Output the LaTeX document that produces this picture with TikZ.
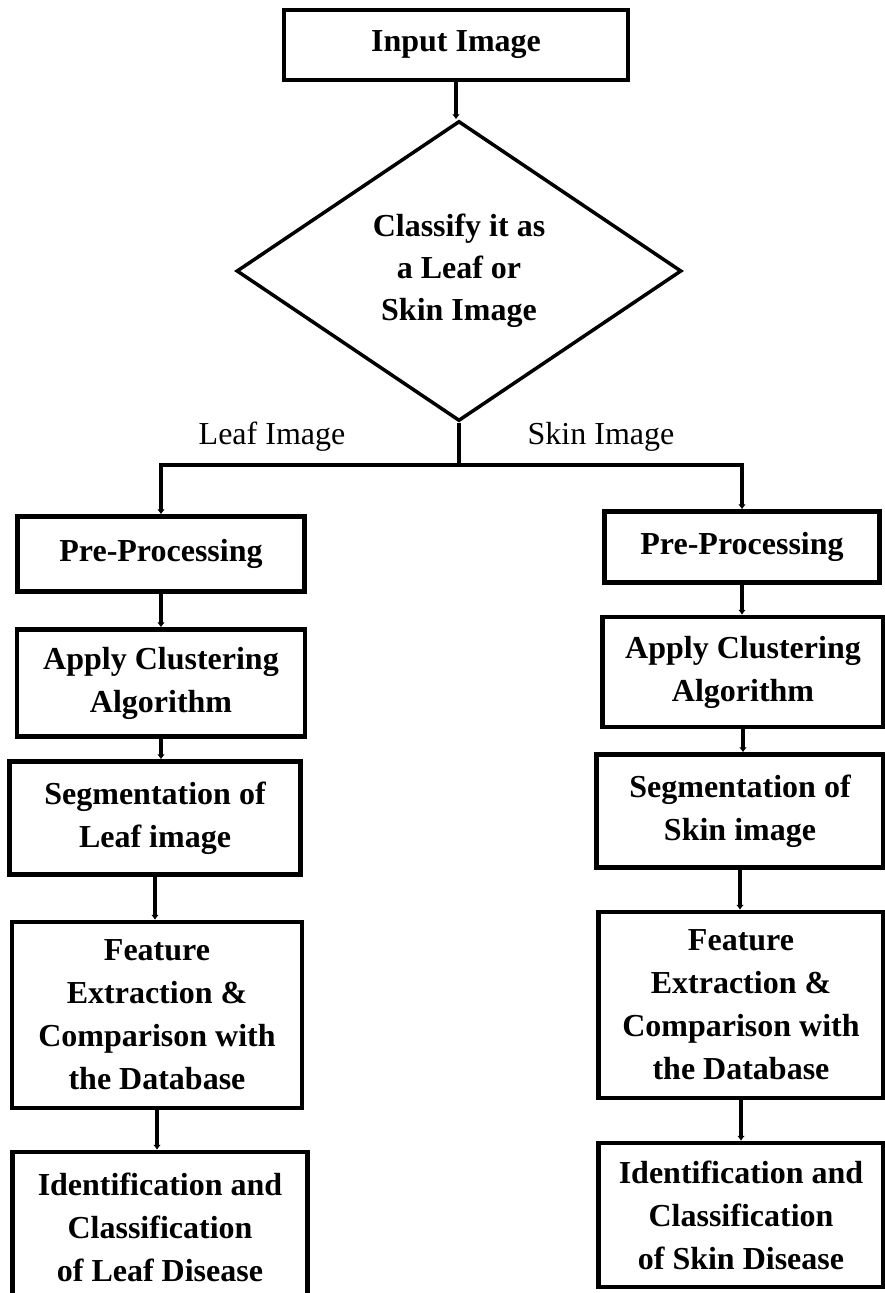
\documentclass[tikz,border=0pt]{standalone}
\usepackage{fontspec}
\setmainfont{Liberation Serif}
\usetikzlibrary{shapes.geometric,arrows.meta}

\begin{document}
\begin{tikzpicture}[x=1pt,y=-1pt,
  blk/.style={draw, line width=4.5pt, align=center, inner sep=0pt,
    font=\bfseries\fontsize{32}{43}\selectfont},
  dec/.style={draw, diamond, line width=3.5pt, align=center, inner sep=0pt,
    font=\bfseries\fontsize{32}{42}\selectfont},
  lbl/.style={font=\fontsize{32}{36}\selectfont},
  arr/.style={line width=4pt, -{Latex[length=5pt,width=8pt]}},
  ln/.style={line width=4pt}]
\useasboundingbox (0,0) rectangle (885,1293);

\node[blk, minimum width=344pt, minimum height=70pt] (inp) at (456,45) {Input Image};
\node[dec, minimum width=445pt, minimum height=300pt] (cls) at (459,271)
  {Classify it as\\a Leaf or\\Skin Image};
\draw[arr] (inp.south) -- (inp.south |- cls.north);

\coordinate (split) at (459,465);
\node[lbl] (leaf) at (272,437) {Leaf Image};
\node[lbl] (skin) at (601,437) {Skin Image};

% left one
\node[blk, minimum width=287pt, minimum height=75pt] (lpre) at (161,554) {Pre-Processing};
\node[blk, minimum width=288pt, minimum height=107pt] (lclu) at (161,683) {Apply Clustering\\Algorithm};
\node[blk, minimum width=291pt, minimum height=113pt] (lseg) at (155,818) {Segmentation of\\Leaf image};
\node[blk, minimum width=290pt, minimum height=186pt] (lfeat) at (157,1015)
  {Feature\\Extraction \&\\Comparison with\\the Database};
\node[blk, minimum width=295pt, minimum height=150pt] (lid) at (160,1227)
  {Identification and\\Classification\\of Leaf Disease};

% right one
\node[blk, minimum width=275pt, minimum height=71pt] (rpre) at (742,547) {Pre-Processing};
\node[blk, minimum width=281pt, minimum height=110pt] (rclu) at (743,672) {Apply Clustering\\Algorithm};
\node[blk, minimum width=287pt, minimum height=113pt] (rseg) at (740,811) {Segmentation of\\Skin image};
\node[blk, minimum width=285pt, minimum height=186pt] (rfeat) at (741,1005)
  {Feature\\Extraction \&\\Comparison with\\the Database};
\node[blk, minimum width=285pt, minimum height=144pt] (rid) at (741,1215)
  {Identification and\\Classification\\of Skin Disease};

% branches
\draw[ln] (cls.south) -- (split);
\draw[arr] (split) -| (lpre.north);
\draw[arr] (split) -| (rpre.north);

\foreach \a/\b in {lpre/lclu, lclu/lseg, lseg/lfeat, lfeat/lid,
                   rpre/rclu, rclu/rseg, rseg/rfeat, rfeat/rid}
  \draw[arr] (\a.south) -- (\a.south |- \b.north);

\end{tikzpicture}
\end{document}
